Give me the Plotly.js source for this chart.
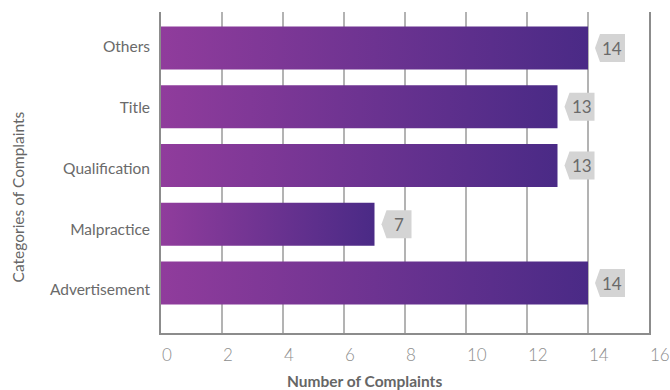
<!DOCTYPE html>
<html>
<head>
<meta charset="utf-8">
<script src="https://cdn.plot.ly/plotly-3.0.1.min.js"></script>
<style>html,body{margin:0;padding:0;background:#fff;}#chart{width:670px;height:390px;}</style>
</head>
<body>
<div id="chart"></div>
<script>
const categories = ["Advertisement", "Malpractice", "Qualification", "Title", "Others"];
const complaints = [14, 7, 13, 13, 14];
const xTicks = [0, 2, 4, 6, 8, 10, 12, 14, 16];
const xTitle = "Number of Complaints";
const yTitle = "Categories of Complaints";

const labelColor = "#666666";
const calloutFill = "#d4d4d4";

const barTrace = {
  type: "bar",
  orientation: "h",
  x: complaints,
  y: categories,
  marker: { color: "#6d3590", line: { width: 0 } },
  hoverinfo: "none"
};

// invisible companion trace that carries the category tick labels on a second axis
const labelTrace = {
  type: "scatter",
  mode: "markers",
  x: complaints,
  y: categories,
  yaxis: "y2",
  marker: { opacity: 0, size: 1 },
  hoverinfo: "none"
};

const shapes = complaints.map((v, i) => ({
  type: "path",
  xref: "x", yref: "y",
  xsizemode: "pixel", ysizemode: "pixel",
  xanchor: v, yanchor: i,
  path: "M 7 0 L 12 14 L 37 14 L 37 -14 L 12 -14 Z",
  fillcolor: calloutFill,
  line: { width: 0 },
  layer: "above"
}));

const valueLabels = complaints.map((v, i) => ({
  xref: "x", yref: "y",
  x: v, y: categories[i],
  text: String(v),
  showarrow: false,
  xanchor: "center", yanchor: "middle",
  xshift: 24,
  font: { family: "Lato, sans-serif", size: 17, color: "#6a6a6a" }
}));

const titles = [
  {
    xref: "paper", yref: "paper", x: 0.416, y: 0, yshift: -48,
    xanchor: "center", yanchor: "middle", showarrow: false,
    text: xTitle,
    font: { family: "Lato, sans-serif", size: 15.5, color: labelColor, weight: "bold" }
  },
  {
    xref: "paper", yref: "paper", x: 0, xshift: -143.5, y: 0.424,
    xanchor: "center", yanchor: "middle", showarrow: false,
    textangle: -90,
    text: yTitle,
    font: { family: "Lato, sans-serif", size: 15.5, color: labelColor }
  }
];

const layout = {
  width: 670, height: 390,
  margin: { l: 161, r: 21, t: 12, b: 57, pad: 0 },
  paper_bgcolor: "#ffffff",
  plot_bgcolor: "#ffffff",
  showlegend: false,
  bargap: 0.268,
  xaxis: {
    range: [0, 16],
    tickvals: xTicks,
    ticktext: xTicks.map(String),
    showgrid: true,
    gridcolor: "#b3b3b3",
    gridwidth: 1.5,
    zeroline: false,
    showline: true,
    linecolor: "#8c8c8c",
    linewidth: 2,
    ticks: "",
    ticklabelposition: "outside right",
    ticklabelstandoff: 6,
    tickfont: { family: "Lato, sans-serif", size: 17, color: "#8e8e8e", weight: 300 },
    fixedrange: true
  },
  yaxis: {
    type: "category",
    categoryorder: "array",
    categoryarray: categories,
    range: [-0.851, 4.613],
    showgrid: false,
    zeroline: false,
    showline: true,
    mirror: true,
    linecolor: "#8c8c8c",
    linewidth: 2,
    ticks: "",
    showticklabels: false,
    fixedrange: true
  },
  yaxis2: {
    type: "category",
    overlaying: "y",
    side: "left",
    categoryorder: "array",
    categoryarray: categories,
    range: [-0.706, 4.565],
    showgrid: false,
    zeroline: false,
    showline: false,
    ticks: "",
    ticklabelstandoff: 10,
    tickfont: { family: "Lato, sans-serif", size: 15.5, color: "#6a6a6a" },
    fixedrange: true
  },
  shapes: shapes,
  annotations: valueLabels.concat(titles)
};

Plotly.newPlot("chart", [barTrace, labelTrace], layout, { displayModeBar: false, staticPlot: true }).then(gd => {
  const svg = gd.querySelector("svg.main-svg");
  let defs = svg.querySelector("defs");
  const ns = "http://www.w3.org/2000/svg";
  if (!defs) { defs = document.createElementNS(ns, "defs"); svg.insertBefore(defs, svg.firstChild); }
  const grad = document.createElementNS(ns, "linearGradient");
  grad.setAttribute("id", "barGrad");
  grad.setAttribute("x1", "0"); grad.setAttribute("y1", "0");
  grad.setAttribute("x2", "1"); grad.setAttribute("y2", "0");
  [["0%", "#903c9c"], ["100%", "#4a2a86"]].forEach(([o, c]) => {
    const s = document.createElementNS(ns, "stop");
    s.setAttribute("offset", o);
    s.setAttribute("stop-color", c);
    grad.appendChild(s);
  });
  defs.appendChild(grad);
  gd.querySelectorAll(".trace.bars .point path").forEach(p => { p.style.fill = "url(#barGrad)"; });
});
</script>
</body>
</html>
